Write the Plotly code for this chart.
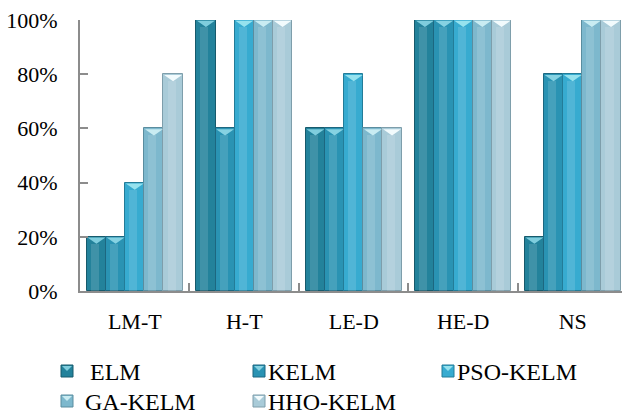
import plotly.graph_objects as go

# Accuracy (%) of each model on the five fault classes
categories = ["LM-T", "H-T", "LE-D", "HE-D", "NS"]
series_names = ["ELM", "KELM", "PSO-KELM", "GA-KELM", "HHO-KELM"]
elm = [20, 100, 60, 100, 20]
kelm = [20, 60, 60, 100, 80]
pso_kelm = [40, 100, 80, 100, 80]
ga_kelm = [60, 100, 60, 100, 100]
hho_kelm = [80, 100, 60, 100, 100]
y_ticks = [0, 20, 40, 60, 80, 100]

series_values = [elm, kelm, pso_kelm, ga_kelm, hho_kelm]
fill_colors = ["#23829b", "#2a93b3", "#37abd0", "#7db8cd", "#a9cbd8"]
edge_colors = ["#175a6c", "#1c6780", "#237c98", "#5a8d9f", "#7e9eab"]
cap_colors = ["#7fcddd", "#86d2e2", "#96e2ee", "#c9ecf2", "#f2fbfd"]

FONT = "Liberation Serif"
bar_w = 0.175
tri_h = 2.6

W, H = 622, 416
L, R, T, B = 80, 0, 20, 125
PW, PH = W - L - R, H - T - B

fig = go.Figure()
for j, (name, vals) in enumerate(zip(series_names, series_values)):
    xs = [i + (j - 2) * bar_w for i in range(len(categories))]
    fig.add_trace(go.Bar(
        x=xs, y=vals, width=bar_w, name=name,
        marker=dict(color=fill_colors[j], line=dict(color=edge_colors[j], width=1)),
        showlegend=False,
    ))
    # soft highlight along the bar body
    fig.add_trace(go.Bar(
        x=[x - bar_w * 0.08 for x in xs], y=[v - tri_h for v in vals], width=bar_w * 0.42,
        marker=dict(color="rgba(255,255,255,0.13)", line=dict(width=0)),
        showlegend=False, hoverinfo="skip",
    ))
    # bevelled cap at the top of each bar
    px, py = [], []
    for x, v in zip(xs, vals):
        px += [x - bar_w / 2 + 0.006, x + bar_w / 2 - 0.006, x, None]
        py += [v - 0.3, v - 0.3, v - tri_h, None]
    fig.add_trace(go.Scatter(
        x=px, y=py, mode="lines", fill="toself", fillcolor=cap_colors[j],
        line=dict(width=0, color=cap_colors[j]), showlegend=False, hoverinfo="skip",
    ))

# legend drawn below the axes: (icon left, text left, row centre) in pixels
legend_pos = [(61, 90, 371), (253, 268, 371), (442, 457, 371), (61, 85, 401), (253, 268, 401)]


def px_x(v):
    return (v - L) / PW


def px_y(v):
    return (H - B - v) / PH


for j, (name, (ix, tx, ly)) in enumerate(zip(series_names, legend_pos)):
    fig.add_shape(type="rect", xref="paper", yref="paper",
                  x0=px_x(ix), x1=px_x(ix + 12),
                  y0=px_y(ly + 6), y1=px_y(ly - 6),
                  fillcolor=fill_colors[j], line=dict(color=edge_colors[j], width=1))
    fig.add_shape(type="path", xref="paper", yref="paper",
                  path=f"M {px_x(ix + 1)} {px_y(ly - 5)} L {px_x(ix + 11)} {px_y(ly - 5)} "
                       f"L {px_x(ix + 6)} {px_y(ly)} Z",
                  fillcolor=cap_colors[j], line=dict(width=0))
    fig.add_annotation(xref="paper", yref="paper",
                       x=px_x(tx), y=px_y(ly + 1),
                       text=name, showarrow=False, xanchor="left", yanchor="middle",
                       xshift=-2,
                       font=dict(family=FONT, size=24, color="#000"))

fig.update_layout(
    width=W, height=H,
    margin=dict(l=L, r=R, t=T, b=B),
    paper_bgcolor="white", plot_bgcolor="white",
    barmode="overlay", bargap=0,
    font=dict(family=FONT, size=22, color="#000"),
    xaxis=dict(
        range=[-0.5, 4.45], tickmode="array",
        tickvals=list(range(len(categories))), ticktext=categories,
        ticks="", showgrid=False, zeroline=False,
        showline=True, linecolor="#8c8c8c", linewidth=2,
        tickfont=dict(family=FONT, size=22), ticklabelstandoff=10,
        minor=dict(tickvals=[i + 0.5 for i in range(len(categories) - 1)],
                   ticks="inside", ticklen=8, tickcolor="#8c8c8c", tickwidth=2, showgrid=False),
    ),
    yaxis=dict(
        range=[0, 100], tickvals=y_ticks, ticktext=[f"{t}%" for t in y_ticks],
        ticks="inside", ticklen=8, tickcolor="#8c8c8c", tickwidth=2,
        showgrid=False, zeroline=False,
        showline=True, linecolor="#8c8c8c", linewidth=2,
        tickfont=dict(family=FONT, size=22), ticklabelstandoff=16,
    ),
)

fig.write_html("out.html")
